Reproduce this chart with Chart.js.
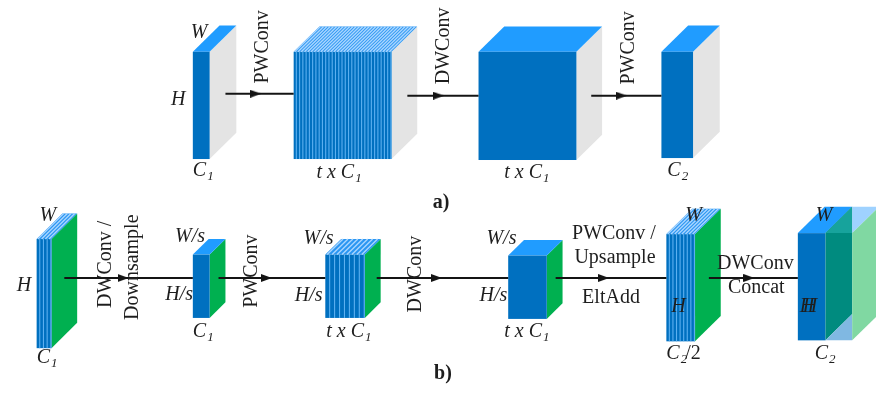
<!DOCTYPE html>
<html>
<head>
<meta charset="utf-8">
<script src="https://cdn.jsdelivr.net/npm/chart.js@4.4.0/dist/chart.umd.min.js"></script>
<style>
  html, body { margin: 0; padding: 0; background: #fff; }
  #wrap { width: 876px; height: 398px; position: relative; }
</style>
</head>
<body>
<div id="wrap"><canvas id="diagram"></canvas></div>
<script>
// tensor blocks, in figure units (the scales run 0..876 and 0..398)
const blockX     = [190, 292, 479, 664,  32, 190, 324, 509, 669, 802];
const blockTop   = [ 48,  48,  48,  48, 240, 256, 256, 257, 235, 234];
const blockW     = [ 17,  99,  99,  32,  15,  17,  40,  39,  29,  28];
const blockH     = [110, 110, 111, 109, 112,  65,  65,  65, 110, 110];
const blockDepth = [ 27,  26,  26,  27,  26,  16,  16,  16,  26,  27];
const blockSlabs = [  1,  30,   1,   1,   4,   1,   8,   1,   8,   1];
const blockSide  = ['gray', 'gray', 'gray', 'gray', 'green', 'green', 'green', 'green', 'green', 'concat'];

// arrows: start, end, arrow tip, height
const arrowFrom = [223, 407, 593,  60, 216, 376, 557, 712];
const arrowTo   = [292, 479, 664, 190, 324, 509, 669, 802];
const arrowTip  = [259, 444, 629, 125, 270, 442, 611, 758];
const arrowY    = [ 91,  93,  93, 280, 280, 280, 280, 280];

// operation names written upright (rotated)
const opText = ['PWConv', 'DWConv', 'PWConv', 'DWConv /', 'Downsample', 'PWConv', 'DWConv'];
const opX    = [261, 444, 631, 102, 129, 250, 415];
const opY    = [ 43,  42,  44, 266, 269, 273, 276];

// operation names written flat
const noteText = ['PWConv /', 'Upsample', 'EltAdd', 'DWConv', 'Concat'];
const noteX    = [616, 617, 613, 759, 760];
const noteY    = [235, 259, 300, 265, 290];

// dimension labels (italic) with subscript and tail
const dimText = ['W', 'H', 'C', 't x C', 't x C', 'C',
                 'W', 'H', 'C', 'W/s', 'H/s', 'C', 'W/s', 'H/s', 't x C',
                 'W/s', 'H/s', 't x C', 'W', 'H', 'C', 'W', 'H', 'H', 'C'];
const dimSub  = ['', '', '1', '1', '1', '2',
                 '', '', '1', '', '', '1', '', '', '1',
                 '', '', '1', '', '', '2', '', '', '', '2'];
const dimTail = ['', '', '', '', '', '',
                 '', '', '', '', '', '', '', '', '',
                 '', '', '', '', '', '/2', '', '', '', ''];
const dimX    = [188, 168, 190, 315, 505, 670,
                  35,  12,  32, 172, 162, 190, 302, 293, 325,
                 487, 480, 505, 688, 674, 669, 820, 804, 807, 819];
const dimY    = [ 28,  97, 170, 172, 172, 170,
                 216, 288, 362, 238, 297, 335, 240, 298, 335,
                 240, 298, 335, 216, 310, 358, 216, 310, 310, 358];

const panelText = ['a)', 'b)'];
const panelX    = [441, 443];
const panelY    = [203, 378];

const SERIF = '"Liberation Serif", "DejaVu Serif", serif';
const colors = {
    front: '#0070c0',
    top: '#209cff',
    topStriped: '#2a96f2',
    stripe: '#5cb0f0',
    topStripe: '#aad6ff',
    gray: '#e4e4e4',
    green: '#00b050',
    text: '#1e1e1e',
    line: '#141414'
};

// small arrowhead used as point style
const head = document.createElement('canvas');
head.width = 11;
head.height = 8;
(function () {
    const h = head.getContext('2d');
    h.fillStyle = colors.line;
    h.beginPath();
    h.moveTo(0, 0);
    h.lineTo(11, 4);
    h.lineTo(0, 8);
    h.closePath();
    h.fill();
})();

function poly(ctx, pts, fill) {
    ctx.beginPath();
    ctx.moveTo(pts[0][0], pts[0][1]);
    for (let k = 1; k < pts.length; k++) ctx.lineTo(pts[k][0], pts[k][1]);
    ctx.closePath();
    ctx.fillStyle = fill;
    ctx.fill();
}

const blocksPlugin = {
    id: 'blocks',
    beforeDatasetsDraw(chart) {
        const ctx = chart.ctx;
        const sx = chart.scales.x, sy = chart.scales.y;
        ctx.save();
        blockX.forEach((bx, i) => {
            const x0 = sx.getPixelForValue(bx);
            const x1 = sx.getPixelForValue(bx + blockW[i]);
            const y0 = sy.getPixelForValue(blockTop[i]);
            const y1 = sy.getPixelForValue(blockTop[i] + blockH[i]);
            const dx = sx.getPixelForValue(bx + blockDepth[i]) - x0;
            const dy = sy.getPixelForValue(blockTop[i] - blockDepth[i]) - y0;
            const slabs = blockSlabs[i];

            if (blockSide[i] === 'concat') {
                // blue half, then the green half seen through it
                ctx.fillStyle = colors.front;
                ctx.fillRect(x0, y0, x1 - x0, y1 - y0);
                poly(ctx, [[x0, y0], [x0 + dx, y0 + dy], [x1 + dx, y0 + dy], [x1, y0]], colors.top);
                poly(ctx, [[x1, y0], [x1 + dx, y0 + dy], [x1 + dx, y1 + dy], [x1, y1]], '#008b7f');
                poly(ctx, [[x1, y0], [x1 + dx, y0 + dy], [x1 + dx, y0]], '#17a39c');
                poly(ctx, [[x1, y1], [x1 + dx, y1], [x1 + dx, y1 + dy]], '#80b8e2');
                const x2 = x1 + dx;
                poly(ctx, [[x2, y0 + dy], [x2 + dx, y0 + dy], [x2, y0]], '#9fd2ff');
                poly(ctx, [[x2, y0], [x2 + dx, y0 + dy], [x2 + dx, y1 + dy], [x2, y1]], '#80d8a2');
                return;
            }

            poly(ctx, [[x1, y0], [x1 + dx, y0 + dy], [x1 + dx, y1 + dy], [x1, y1]],
                 blockSide[i] === 'green' ? colors.green : colors.gray);
            poly(ctx, [[x0, y0], [x0 + dx, y0 + dy], [x1 + dx, y0 + dy], [x1, y0]],
                 slabs > 1 ? colors.topStriped : colors.top);
            ctx.fillStyle = colors.front;
            ctx.fillRect(x0, y0, x1 - x0, y1 - y0);

            if (slabs > 1) {
                const step = (x1 - x0) / slabs;
                for (let k = 1; k <= slabs; k++) {
                    const xs = x0 + k * step - 0.6;
                    ctx.strokeStyle = colors.stripe;
                    ctx.lineWidth = 1.1;
                    ctx.beginPath();
                    ctx.moveTo(xs, y0);
                    ctx.lineTo(xs, y1);
                    ctx.stroke();
                    ctx.strokeStyle = colors.topStripe;
                    ctx.lineWidth = 1.4;
                    ctx.beginPath();
                    ctx.moveTo(xs - step / 2, y0);
                    ctx.lineTo(xs - step / 2 + dx, y0 + dy);
                    ctx.stroke();
                }
            }
        });
        ctx.restore();
    },
    afterDatasetsDraw(chart) {
        const ctx = chart.ctx;
        const sx = chart.scales.x, sy = chart.scales.y;
        ctx.save();
        ctx.fillStyle = colors.text;
        ctx.textBaseline = 'middle';

        // rotated operation names
        ctx.font = '20px ' + SERIF;
        ctx.textAlign = 'center';
        opText.forEach((t, i) => {
            ctx.save();
            ctx.translate(sx.getPixelForValue(opX[i]), sy.getPixelForValue(opY[i]));
            ctx.rotate(-Math.PI / 2);
            ctx.fillText(t, 0, 0);
            ctx.restore();
        });

        // flat operation names
        noteText.forEach((t, i) => {
            ctx.fillText(t, sx.getPixelForValue(noteX[i]), sy.getPixelForValue(noteY[i]));
        });

        // dimension labels
        ctx.textAlign = 'left';
        dimText.forEach((t, i) => {
            let x = sx.getPixelForValue(dimX[i]);
            const y = sy.getPixelForValue(dimY[i]);
            ctx.font = 'italic 20px ' + SERIF;
            ctx.fillText(t, x, y);
            x += ctx.measureText(t).width;
            if (dimSub[i]) {
                ctx.font = 'italic 13px ' + SERIF;
                ctx.fillText(dimSub[i], x + 1, y + 6);
                x += ctx.measureText(dimSub[i]).width - 1;
            }
            if (dimTail[i]) {
                ctx.font = '20px ' + SERIF;
                ctx.fillText(dimTail[i], x, y);
            }
        });

        // panel letters
        ctx.font = 'bold 20px ' + SERIF;
        ctx.textAlign = 'center';
        panelText.forEach((t, i) => {
            ctx.fillText(t, sx.getPixelForValue(panelX[i]), sy.getPixelForValue(panelY[i]));
        });
        ctx.restore();
    }
};

const arrowSets = arrowFrom.map((x, i) => ({
    data: [{ x: x, y: arrowY[i] }, { x: arrowTo[i], y: arrowY[i] }],
    showLine: true,
    borderColor: colors.line,
    borderWidth: 2,
    pointRadius: 0
}));

const headSet = {
    data: arrowTip.map((x, i) => ({ x: x - head.width / 2, y: arrowY[i] })),
    showLine: false,
    pointStyle: head,
    pointRadius: 4
};

new Chart(document.getElementById('diagram'), {
    type: 'scatter',
    data: { datasets: [...arrowSets, headSet] },
    options: {
        responsive: true,
        maintainAspectRatio: false,
        animation: false,
        layout: { padding: 0 },
        scales: {
            x: { type: 'linear', min: 0, max: 876, display: false },
            y: { type: 'linear', min: 0, max: 398, reverse: true, display: false }
        },
        plugins: {
            legend: { display: false },
            tooltip: { enabled: false }
        }
    },
    plugins: [blocksPlugin]
});
</script>
</body>
</html>
